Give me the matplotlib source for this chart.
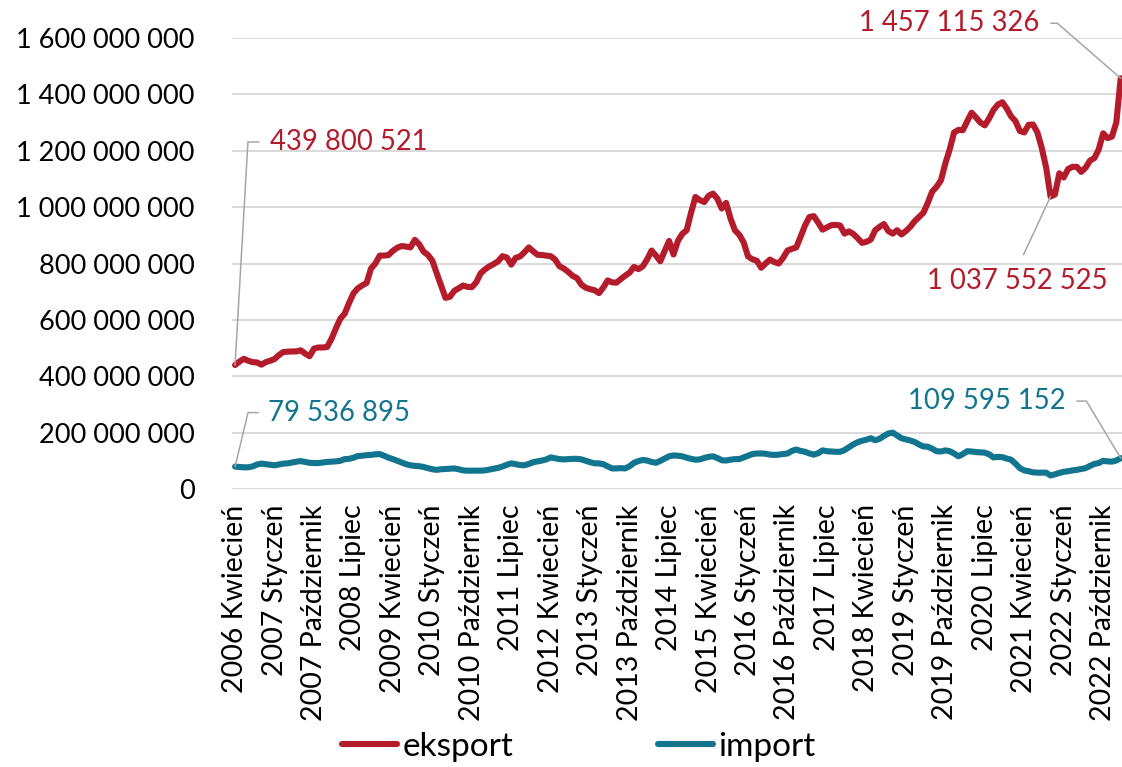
import numpy as np
import matplotlib
matplotlib.use("Agg")
import matplotlib.pyplot as plt
from matplotlib.ticker import FuncFormatter

plt.rcParams['font.family'] = ['Lato', 'DejaVu Sans']

# miesiące (kwiecień 2006 - luty 2023)
miesiace = ['Styczeń', 'Luty', 'Marzec', 'Kwiecień', 'Maj', 'Czerwiec', 'Lipiec',
            'Sierpień', 'Wrzesień', 'Październik', 'Listopad', 'Grudzień']
start_rok, start_mies, n_mies = 2006, 4, 203
okresy = [f"{start_rok + (start_mies - 1 + k) // 12} {miesiace[(start_mies - 1 + k) % 12]}"
          for k in range(n_mies)]

# wartości w mln
eksport = [439.800521, 452, 462, 455, 450, 449, 441, 450, 455, 461,
           475, 486, 487, 488, 488, 492, 480, 471, 498, 502,
           502, 504, 533, 570, 604, 622, 660, 694, 712, 722,
           731, 782, 800, 828, 828, 830, 845, 856, 862, 860,
           857, 884, 868, 842, 830, 810, 765, 722, 678, 682,
           703, 712, 722, 717, 716, 733, 765, 779, 790, 798,
           808, 826, 821, 796, 820, 825, 840, 857, 843, 831,
           830, 828, 826, 814, 790, 782, 770, 756, 748, 725,
           714, 709, 705, 695, 715, 740, 733, 732, 745, 757,
           768, 788, 780, 790, 815, 846, 828, 808, 845, 880,
           832, 880, 905, 918, 980, 1036, 1025, 1018, 1040, 1048,
           1030, 995, 1015, 960, 918, 902, 875, 825, 815, 810,
           785, 800, 814, 805, 800, 820, 846, 852, 857, 895,
           935, 965, 968, 945, 920, 928, 936, 937, 935, 906,
           914, 905, 890, 873, 877, 885, 918, 930, 940, 915,
           906, 918, 903, 915, 930, 950, 965, 980, 1015, 1055,
           1072, 1095, 1155, 1205, 1265, 1274, 1273, 1305, 1335, 1318,
           1300, 1290, 1315, 1345, 1364, 1372, 1350, 1322, 1305, 1270,
           1265, 1292, 1293, 1265, 1210, 1140, 1037.552525, 1045, 1120, 1105,
           1135, 1143, 1143, 1125, 1140, 1165, 1174, 1205, 1262, 1245,
           1250, 1300, 1457.115326]

importy = [79.536895, 78, 77, 77, 80, 87, 90, 88, 86, 84,
           87, 90, 91, 94, 97, 99, 96, 93, 92, 92,
           94, 96, 97, 98, 100, 106, 107, 111, 117, 118,
           120, 121, 123, 124, 118, 111, 106, 100, 94, 88,
           84, 82, 81, 78, 74, 70, 68, 70, 71, 72,
           73, 70, 66, 65, 65, 65, 65, 66, 69, 72,
           75, 80, 86, 91, 88, 85, 84, 89, 95, 98,
           101, 105, 112, 109, 106, 105, 106, 107, 107, 105,
           100, 95, 91, 91, 88, 80, 73, 73, 74, 73,
           81, 93, 99, 103, 101, 96, 93, 100, 108, 116,
           119, 118, 116, 111, 107, 104, 105, 110, 114, 116,
           110, 102, 101, 104, 106, 106, 112, 118, 124, 126,
           126, 125, 122, 121, 122, 124, 126, 135, 140, 135,
           132, 126, 122, 127, 137, 134, 133, 132, 132, 138,
           148, 158, 166, 171, 175, 180, 173, 178, 188, 197,
           200, 190, 180, 176, 172, 167, 158, 151, 150, 143,
           134, 133, 137, 134, 126, 116, 124, 134, 133, 131,
           130, 129, 123, 112, 114, 113, 108, 104, 90, 74,
           66, 63, 59, 58, 58, 58, 48, 52, 57, 61,
           63, 66, 68, 71, 74, 82, 89, 92, 100, 98,
           97, 101, 109.595152]

krok_etykiet = 9
kolor_eks = '#B41C2C'
kolor_imp = '#12758F'
kolor_lin = '#A6A6A6'

x = np.arange(n_mies)
eks = np.array(eksport) * 1e6
imp = np.array(importy) * 1e6

fig = plt.figure(figsize=(11.22, 7.67), dpi=100)
ax = fig.add_axes([232 / 1122, 1 - 489 / 767, 890 / 1122, 451 / 767])

ax.plot(x, eks, color=kolor_eks, lw=4.4, label='eksport', solid_capstyle='round',
        solid_joinstyle='round', clip_on=False)
ax.plot(x, imp, color=kolor_imp, lw=4.4, label='import', solid_capstyle='round',
        solid_joinstyle='round', clip_on=False)

ax.set_ylim(0, 1.6e9)
ax.set_xlim(-0.7, 202.3)
ax.set_yticks(np.arange(0, 1.6e9 + 1, 2e8))
ax.yaxis.set_major_formatter(FuncFormatter(lambda v, p: f"{int(round(v)):,}".replace(',', ' ')))
ax.set_xticks(x[::krok_etykiet])
ax.set_xticklabels(okresy[::krok_etykiet], rotation=90, va='top', ha='center')
ax.tick_params(axis='both', length=0, colors='black')
ax.tick_params(axis='y', pad=27, labelsize=19.5)
ax.tick_params(axis='x', pad=11, labelsize=20.5)
ax.yaxis.grid(True, color='#D9D9D9', lw=1.4)
ax.set_axisbelow(True)
for s in ax.spines.values():
    s.set_visible(False)

# etykiety danych
fs = 19.8
def opis(i, seria, kolor, dx, dy, ha, va, styl, rel, shrink):
    v = seria[i]
    ax.annotate(f"{int(round(v)):,}".replace(',', ' '), xy=(x[i], v),
                xytext=(dx, dy), textcoords='offset pixels', ha=ha, va=va,
                color=kolor, fontsize=fs, annotation_clip=False,
                arrowprops=dict(arrowstyle='-', color=kolor_lin, lw=1.1,
                                shrinkA=shrink, shrinkB=0, relpos=rel,
                                connectionstyle=styl))

opis(0, eks, kolor_eks, 35, 223, 'left', 'center', 'angle,angleA=0,angleB=86.7,rad=0', (0, 0.5), 6)
opis(0, imp, kolor_imp, 33, 54, 'left', 'center', 'angle,angleA=0,angleB=76.5,rad=0', (0, 0.5), 5)
opis(n_mies - 1, eks, kolor_eks, -81, 55, 'right', 'center', 'angle,angleA=0,angleB=-41,rad=0', (1, 0.5), 6)
opis(n_mies - 1, imp, kolor_imp, -55, 57, 'right', 'center', 'angle,angleA=0,angleB=-59,rad=0', (1, 0.5), 6)
i_min = 180 + int(np.argmin(eks[180:]))
opis(i_min, eks, kolor_eks, -33, -84, 'center', 'center', 'arc3,rad=0', (0.5, 1), 8)

fig.legend(loc='center', bbox_to_anchor=(0.516, 0.026), ncol=2, frameon=False,
           fontsize=24, handlelength=1.65, handletextpad=0.15, columnspacing=4.35,
           borderaxespad=0)

fig.savefig('out.png', dpi=100)
